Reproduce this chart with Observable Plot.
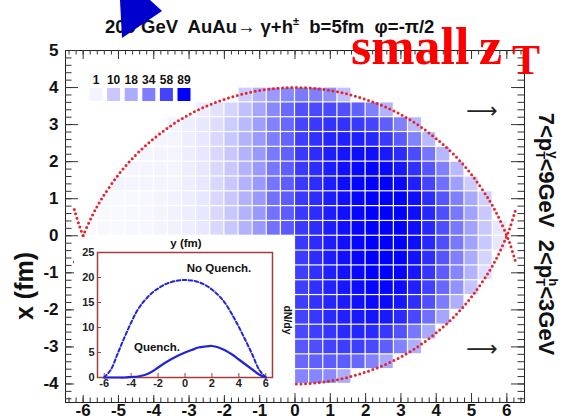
<!DOCTYPE html>
<html><head><meta charset="utf-8">
<script src="https://cdn.jsdelivr.net/npm/d3@7"></script>
<script src="https://cdn.jsdelivr.net/npm/@observablehq/plot@0.6"></script>
<style>
body{margin:0;background:#fff;}
#wrap{position:relative;width:564px;height:419px;overflow:hidden;font-family:"Liberation Sans",Arial,sans-serif;}
#wrap > *{position:absolute;}
</style></head><body><div id="wrap"></div>
<script>
// ---------- data ----------
// horizontal axis of the map: y (fm), column centres
const colCenters = [-5.8,-5.4,-5.0,-4.6,-4.2,-3.8,-3.4,-3.0,-2.6,-2.2,-1.8,-1.4,-1.0,-0.6,-0.2,0.2,0.6,1.0,1.4,1.8,2.2,2.6,3.0,3.4,3.8,4.2,4.6,5.0,5.4,5.8];
// vertical axis of the map: x (fm), row centres, top to bottom
const rowCenters = [3.8,3.4,3.0,2.6,2.2,1.8,1.4,1.0,0.6,0.2,-0.2,-0.6,-1.0,-1.4,-1.8,-2.2,-2.6,-3.0,-3.4,-3.8];
// counts per cell (0 = no cell / hidden by the inset)
const density = [
 [0,0,0,0,0,0,0,0,0,0,0,9,16,24,30,35,33,27,12,0,0,0,0,0,0,0,0,0,0,0],
 [0,0,0,0,0,0,0,0,2,4,7,12,20,30,42,52,55,55,52,45,33,16,0,0,0,0,0,0,0,0],
 [0,0,0,0,0,0,1,2,3,5,9,14,22,32,42,57,62,65,65,62,57,46,33,14,0,0,0,0,0,0],
 [0,0,0,0,0,1,1,2,3,6,10,16,24,34,44,60,66,71,74,74,70,62,48,32,14,0,0,0,0,0],
 [0,0,0,0,1,1,1,2,3,6,10,16,24,35,45,62,68,75,79,82,81,77,68,54,37,15,0,0,0,0],
 [0,0,0,1,1,1,1,2,3,6,10,16,24,36,46,62,68,75,81,85,87,85,78,66,50,33,14,0,0,0],
 [0,0,1,1,1,1,1,2,3,6,10,16,24,37,46,62,68,75,82,87,89,89,85,74,57,39,22,9,0,0],
 [0,0.5,0.5,0.6,0.6,1,1.2,2,3,6,10,16,24,38,47,62,68,75,81,86,89,89,89,82,68,50,33,19,8,0],
 [0,0.5,0.5,0.6,0.6,1,1.2,2,3,6,10,16,24,38,47,62,68,75,81,86,89,89,89,82,70,53,36,21,10,0],
 [0.3,0.5,0.5,0.6,0.6,1,1.2,2,3,6,10,16,24,38,48,62,68,75,81,86,89,89,89,82,70,53,36,21,10,3],
 [0,0,0,0,0,0,0,0,0,0,0,0,0,0,0,62,68,75,81,86,89,89,89,82,70,53,36,21,10,3],
 [0,0,0,0,0,0,0,0,0,0,0,0,0,0,0,61,68,75,81,86,89,89,88,80,67,50,33,18,7,0],
 [0,0,0,0,0,0,0,0,0,0,0,0,0,0,0,60,66,74,80,85,89,89,87,78,64,47,31,16,5,0],
 [0,0,0,0,0,0,0,0,0,0,0,0,0,0,0,60,66,72,78,83,87,87,83,73,59,42,26,11,0,0],
 [0,0,0,0,0,0,0,0,0,0,0,0,0,0,0,60,65,71,76,81,84,84,78,67,52,34,17,0,0,0],
 [0,0,0,0,0,0,0,0,0,0,0,0,0,0,0,58,63,69,73,77,79,77,69,56,39,20,0,0,0,0],
 [0,0,0,0,0,0,0,0,0,0,0,0,0,0,0,55,60,64,69,71,69,63,51,36,19,0,0,0,0,0],
 [0,0,0,0,0,0,0,0,0,0,0,0,0,0,0,49,53,58,60,60,55,46,32,17,0,0,0,0,0,0],
 [0,0,0,0,0,0,0,0,0,0,0,0,0,0,0,42,45,47,47,42,32,19,0,0,0,0,0,0,0,0],
 [0,0,0,0,0,0,0,0,0,0,0,0,0,0,0,31,31,29,18,0,0,0,0,0,0,0,0,0,0,0]
];
const legendLevels = [1,10,18,34,58,89];
// overlap boundary (dotted red)
const boundaryY = [-6.25,-6.1,-6,-5.75,-5.5,-5,-4.5,-4,-3.5,-3,-2.5,-2,-1.5,-1,-0.5,0,0.5,1,1.5,2,2.5,3,3.5,4,4.5,5,5.5,5.75,6,6.1,6.25];
const upperX = [-0.71,-0.25,0,0.53,0.96,1.65,2.19,2.62,2.98,3.27,3.5,3.68,3.82,3.92,3.98,4.0,3.98,3.92,3.82,3.68,3.5,3.27,2.98,2.62,2.19,1.65,0.96,0.53,0,-0.25,-0.71];
const lowerX = [0.71,0.25,0,-0.53,-0.96,-1.65,-2.19,-2.62,-2.98,-3.27,-3.5,-3.68,-3.82,-3.92,-3.98,-4.0,-3.98,-3.92,-3.82,-3.68,-3.5,-3.27,-2.98,-2.62,-2.19,-1.65,-0.96,-0.53,0,0.25,0.71];
// inset dN/dy
const dndyY = [-6,-5.5,-5,-4.5,-4,-3.5,-3,-2.5,-2,-1.5,-1,-0.5,0,0.5,1,1.5,2,2.5,3,3.5,4,4.5,5,5.5,6];
const noQuench = [0,1.6,4.8,8.0,11.0,13.6,15.4,16.8,17.8,18.6,19.1,19.4,19.5,19.4,19.1,18.5,17.6,16.4,14.8,12.6,10.1,7.4,4.6,1.6,0];
const quench = [0,0,0,0,0.1,0.2,0.5,1.1,2.0,2.9,3.7,4.4,5.0,5.5,6.0,6.2,6.3,6.0,5.4,4.6,3.6,2.6,1.6,0.6,0];
// tick labels
const mainTicksY = [-6,-5,-4,-3,-2,-1,0,1,2,3,4,5,6];
const mainTicksX = [-4,-3,-2,-1,0,1,2,3,4,5];
const insetTicksY = [-6,-4,-2,0,2,4,6];
const insetTicksV = [0,5,10,15,20,25];

// ---------- build ----------
const wrap = document.getElementById("wrap");
const W = 564, H = 419, mL = 65, mT = 50, mR = 40, mB = 17;
const fw = W - mL - mR, fh = H - mT - mB;
const CELL = 0.4;
const cells = [];
density.forEach((row, r) => row.forEach((v, c) => { if (v > 0) cells.push({yc: colCenters[c], xc: rowCenters[r], v}); }));
const minorY = d3.range(-64, 65, 2).map(d => d / 10);
const minorX = d3.range(-44, 50, 2).map(d => d / 10);
const upper = boundaryY.map((y, i) => ({y, x: upperX[i]}));
const lower = boundaryY.map((y, i) => ({y, x: lowerX[i]}));
const font = "Liberation Sans, Arial, sans-serif";

const main = Plot.plot({
  width: W, height: H, marginLeft: mL, marginTop: mT, marginRight: mR, marginBottom: mB,
  style: {fontFamily: font, background: "transparent", overflow: "visible"},
  x: {domain: [-6.5, 6.5], axis: null},
  y: {domain: [-4.5, 5], axis: null},
  color: {type: "pow", exponent: 0.7, domain: [0, 89], range: ["#ffffff", "#0000ff"], interpolate: "rgb", clamp: true},
  marks: [
    Plot.rect(cells, {x1: d => d.yc - CELL/2, x2: d => d.yc + CELL/2, y1: d => d.xc - CELL/2, y2: d => d.xc + CELL/2, fill: "v", inset: 0.6}),
    Plot.line(upper, {x: "y", y: "x", stroke: "#e3262b", strokeWidth: 3, strokeDasharray: "0,4.6", strokeLinecap: "round", curve: "catmull-rom"}),
    Plot.line(lower, {x: "y", y: "x", stroke: "#e3262b", strokeWidth: 3, strokeDasharray: "0,4.6", strokeLinecap: "round", curve: "catmull-rom"}),
    Plot.frame({stroke: "#222"}),
    // inward ROOT-style ticks
    Plot.tickX(minorY, {x: d => d, insetTop: fh - 4.5, stroke: "#333"}),
    Plot.tickX(mainTicksY, {x: d => d, insetTop: fh - 9, stroke: "#333"}),
    Plot.tickX(minorY, {x: d => d, insetBottom: fh - 4.5, stroke: "#333"}),
    Plot.tickX(mainTicksY, {x: d => d, insetBottom: fh - 9, stroke: "#333"}),
    Plot.tickY(minorX, {y: d => d, insetRight: fw - 6.5, stroke: "#333"}),
    Plot.tickY(mainTicksX, {y: d => d, insetRight: fw - 13, stroke: "#333"}),
    Plot.tickY(minorX, {y: d => d, insetLeft: fw - 6.5, stroke: "#333"}),
    Plot.tickY(mainTicksX, {y: d => d, insetLeft: fw - 13, stroke: "#333"}),
    Plot.axisX(mainTicksY, {anchor: "bottom", tickSize: 0, tickPadding: 1, label: null, tickFormat: d => String(d), fontSize: 17, fontWeight: "bold", fill: "#111"}),
    Plot.axisY(mainTicksX, {anchor: "left", tickSize: 0, tickPadding: 7, label: null, tickFormat: d => String(d), fontSize: 17, fontWeight: "bold", fill: "#111"})
  ]
});
main.style.left = "0px"; main.style.top = "0px";
wrap.appendChild(main);
const colorScale = main.scale("color");

// inset
const iL = 74, iT = 237, iW = 219, iH = 158;
const nq = dndyY.map((y, i) => ({y, v: noQuench[i]}));
const q = dndyY.map((y, i) => ({y, v: quench[i]}));
const brown = "#a23f3a";
const inset = Plot.plot({
  width: iW, height: iH, marginLeft: 23, marginTop: 15, marginRight: 21, marginBottom: 18,
  style: {fontFamily: font, background: "white", overflow: "visible"},
  x: {domain: [-6.5, 6.5], axis: null},
  y: {domain: [0, 25], axis: null},
  marks: [
    Plot.frame({stroke: brown, strokeWidth: 1.5}),
    Plot.tickY(insetTicksV, {y: d => d, insetRight: 175 - 4, stroke: brown}),
    Plot.tickX(insetTicksY, {x: d => d, insetTop: 125 - 4, stroke: brown}),
    Plot.line(nq, {x: "y", y: "v", stroke: "#2323d9", strokeWidth: 2, strokeDasharray: "3.5,2.5", curve: "catmull-rom"}),
    Plot.line(q, {x: "y", y: "v", stroke: "#2323d9", strokeWidth: 2.2, curve: "catmull-rom"}),
    Plot.axisX(insetTicksY, {anchor: "bottom", tickSize: 0, tickPadding: 2, label: null, tickFormat: d => String(d), fontSize: 11, fontWeight: "bold", fill: "#222"}),
    Plot.axisY(insetTicksV, {anchor: "left", tickSize: 0, tickPadding: 3, label: null, tickFormat: d => String(d), fontSize: 11, fontWeight: "bold", fill: "#222"})
  ]
});
inset.style.left = iL + "px"; inset.style.top = iT + "px";
wrap.appendChild(inset);

// annotations overlay
const svg = d3.create("svg").attr("width", W).attr("height", H)
  .style("left", "0px").style("top", "0px").style("pointer-events", "none")
  .style("font-family", font);
// title
const t = svg.append("text").attr("x", 105).attr("y", 33).attr("text-anchor", "start")
  .attr("font-size", 18.5).attr("font-weight", "bold").attr("fill", "#111").style("white-space", "pre");
t.append("tspan").text("200 GeV  AuAu\u2192 \u03b3+h");
t.append("tspan").attr("font-size", 11).attr("dy", -8).text("\u00b1");
t.append("tspan").attr("dy", 8).text("  b=5fm  \u03c6=-\u03c0/2");
// blue arrow
svg.append("polygon").attr("points", "120,0 150,0 162,11 122,38").attr("fill", "#0000cc");
// small zT
const z = svg.append("text").attr("y", 64).attr("fill", "#ff0000")
  .attr("font-family", "Liberation Serif, Times New Roman, serif").attr("font-weight", "bold").attr("font-size", 52);
z.append("tspan").attr("x", 351).text("small");
z.append("tspan").attr("x", 479).text("z");
z.append("tspan").attr("x", 512).attr("font-size", 42).attr("dy", 10).text("T");
// right label
const rl = svg.append("text").attr("transform", "translate(547,234) rotate(90)").attr("text-anchor", "middle")
  .attr("dominant-baseline", "central").attr("font-size", 22).attr("font-weight", "bold").attr("fill", "#111").style("white-space", "pre");
rl.append("tspan").text("7<p");
rl.append("tspan").attr("font-size", 13).attr("dy", 6).text("T");
rl.append("tspan").attr("font-size", 13).attr("dx", -8).attr("dy", -13).text("\u03b3");
rl.append("tspan").attr("dy", 7).text("<9GeV  2<p");
rl.append("tspan").attr("font-size", 13).attr("dy", 6).text("T");
rl.append("tspan").attr("font-size", 13).attr("dx", -8).attr("dy", -13).text("h");
rl.append("tspan").attr("dy", 7).text("<3GeV");
// left axis title
svg.append("text").attr("transform", "translate(24,286) rotate(-90)").attr("text-anchor", "middle")
  .attr("dominant-baseline", "central").attr("font-size", 25).attr("font-weight", "bold").attr("fill", "#111").text("x (fm)");
// arrows
for (const yy of [110, 348]) {
  svg.append("text").attr("x", 482).attr("y", yy).attr("text-anchor", "middle").attr("dominant-baseline", "central")
    .attr("font-family", "DejaVu Sans, sans-serif").attr("font-size", 22).attr("fill", "#222").text("\u27f6");
}
// legend
legendLevels.forEach((v, i) => {
  const cx = 96 + i * 17.6;
  svg.append("text").attr("x", cx).attr("y", 84).attr("text-anchor", "middle").attr("font-size", 12)
    .attr("font-weight", "bold").attr("fill", "#111").text(String(v));
  svg.append("rect").attr("x", cx - 6.5).attr("y", 88).attr("width", 13).attr("height", 13).attr("fill", colorScale.apply(v));
});
// inset annotations
const lab = (x, y, s, size) => svg.append("text").attr("x", x).attr("y", y).attr("text-anchor", "middle")
  .attr("dominant-baseline", "central").attr("font-size", size).attr("font-weight", "bold").attr("fill", "#111").text(s);
lab(186, 243, "y (fm)", 11.5);
lab(219, 268, "No Quench.", 11.5);
lab(157, 347, "Quench.", 11.5);
svg.append("text").attr("transform", "translate(288,320) rotate(90)").attr("text-anchor", "middle")
  .attr("dominant-baseline", "central").attr("font-size", 10.5).attr("font-weight", "bold").attr("fill", "#111").text("dN/dy");
wrap.appendChild(svg.node());
</script></body></html>
